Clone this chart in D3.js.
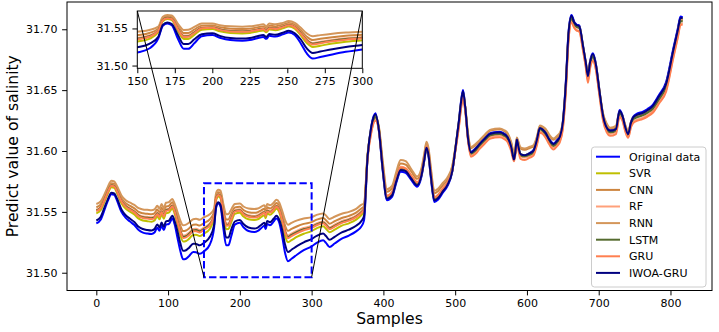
<!DOCTYPE html>
<html><head><meta charset="utf-8">
<script src="https://cdn.jsdelivr.net/npm/d3@7"></script>
<style>body{margin:0;background:#fff}svg{display:block;font-family:"DejaVu Sans",sans-serif}</style>
</head><body><svg id="c" width="719" height="332"></svg>
<script>
const samples = [0,6,11,16,21,25,29,35,41,47,53,59,65,71,77,81,85,88,91,94,97,101,106,109,113,117,121,125,129,135,139,144,
150,158,164,167,170,173,177,181,184,188,193,200,205,212,220,225,230,234,236,238,242,247,251,255,259,263,267,272,280,289,300,
307,316,320,325,332,342,352,362,369,373,378,383,389,394,399,405,412,418,424,431,439,447,453,457,460,463,466,471,476,483,
489,496,501,505,509,511,514,518,522,528,534,541,548,555,562,568,573,578,582,584,586,588,591,597,604,609,614,618,622,626,
631,637,642,646,650,654,658,662,666,669,673,678,682,685,688,692,696,701,706,711,716,724,729,733,737,741,745,748,754,761,
768,775,784,794,804,810,814,817];

const originalData = [31.5405,31.5435,31.5510,31.5590,31.5645,31.5640,31.5590,31.5500,31.5450,31.5420,31.5392,31.5350,31.5330,31.5322,31.5318,31.5330,31.5370,31.5345,31.5385,31.5350,31.5395,31.5400,31.5445,31.5400,31.5290,31.5180,31.5110,31.5115,31.5135,31.5170,31.5168,31.5155,
31.5176,31.5230,31.5365,31.5536,31.5568,31.5545,31.5365,31.5225,31.5225,31.5300,31.5395,31.5410,31.5374,31.5343,31.5334,31.5343,31.5368,31.5385,31.5360,31.5400,31.5390,31.5420,31.5446,31.5410,31.5298,31.5163,31.5095,31.5115,31.5150,31.5185,31.5217,
31.5245,31.5267,31.5245,31.5212,31.5240,31.5280,31.5305,31.5340,31.5377,31.5430,31.5950,31.6200,31.6310,31.6150,31.5840,31.5596,31.5623,31.5740,31.5830,31.5820,
31.5760,31.5706,31.5788,31.5920,31.6021,31.5950,31.5788,31.5582,31.5600,31.5660,31.5710,31.5830,31.6050,31.6240,31.6446,31.6501,31.6360,31.6100,31.5993,31.6020,
31.6062,31.6105,31.6145,31.6155,31.6158,31.6145,31.6120,31.6035,31.5925,31.6000,31.6104,31.6040,31.5975,31.5966,31.5985,31.6007,31.6100,31.6199,31.6180,31.6155,
31.6100,31.6062,31.6090,31.6125,31.6240,31.6550,31.6980,31.7118,31.7060,31.7040,31.7030,31.6871,31.6730,31.6624,31.6740,31.6803,31.6720,31.6500,31.6295,31.6200,
31.6172,31.6186,31.6336,31.6295,31.6200,31.6145,31.6240,31.6281,31.6309,31.6322,31.6345,31.6377,31.6460,31.6569,31.6844,31.7000,31.7104,31.7100];

const svrData = [31.5488,31.5513,31.5578,31.5650,31.5702,31.5697,31.5652,31.5570,31.5525,31.5501,31.5478,31.5444,31.5429,31.5423,31.5419,31.5429,31.5464,31.5439,31.5479,31.5444,31.5489,31.5494,31.5528,31.5488,31.5399,31.5310,31.5256,31.5261,31.5278,31.5310,31.5311,31.5301,
31.5322,31.5360,31.5448,31.5598,31.5627,31.5613,31.5469,31.5358,31.5359,31.5414,31.5483,31.5492,31.5462,31.5439,31.5433,31.5439,31.5459,31.5473,31.5448,31.5486,31.5476,31.5501,31.5526,31.5496,31.5407,31.5303,31.5251,31.5268,31.5296,31.5320,31.5342,
31.5365,31.5381,31.5362,31.5332,31.5354,31.5387,31.5406,31.5436,31.5471,31.5503,31.5960,31.6190,31.6290,31.6170,31.5860,31.5616,31.5643,31.5760,31.5850,31.5840,
31.5780,31.5726,31.5803,31.5935,31.6030,31.5970,31.5810,31.5602,31.5620,31.5680,31.5725,31.5840,31.6050,31.6230,31.6426,31.6481,31.6360,31.6110,31.5983,31.6010,
31.6052,31.6095,31.6135,31.6145,31.6148,31.6135,31.6110,31.6035,31.5935,31.5995,31.6090,31.6035,31.5975,31.5966,31.5980,31.5997,31.6090,31.6184,31.6170,31.6145,
31.6090,31.6052,31.6080,31.6115,31.6225,31.6520,31.6955,31.7098,31.7050,31.7030,31.7020,31.6862,31.6722,31.6610,31.6725,31.6788,31.6705,31.6490,31.6285,31.6190,
31.6162,31.6176,31.6320,31.6285,31.6192,31.6135,31.6230,31.6270,31.6289,31.6302,31.6325,31.6357,31.6438,31.6545,31.6815,31.6975,31.7080,31.7080];

const cnnData = [31.5538,31.5560,31.5618,31.5685,31.5736,31.5731,31.5690,31.5612,31.5570,31.5549,31.5529,31.5499,31.5488,31.5484,31.5480,31.5488,31.5519,31.5494,31.5534,31.5499,31.5544,31.5549,31.5578,31.5541,31.5464,31.5388,31.5342,31.5347,31.5363,31.5394,31.5396,31.5387,
31.5408,31.5438,31.5498,31.5636,31.5662,31.5653,31.5531,31.5437,31.5438,31.5483,31.5536,31.5541,31.5515,31.5497,31.5492,31.5497,31.5513,31.5526,31.5501,31.5537,31.5527,31.5549,31.5573,31.5547,31.5472,31.5387,31.5344,31.5360,31.5382,31.5401,31.5416,
31.5436,31.5450,31.5432,31.5403,31.5423,31.5450,31.5467,31.5494,31.5526,31.5546,31.5970,31.6170,31.6270,31.6180,31.5900,31.5666,31.5693,31.5810,31.5898,31.5888,
31.5830,31.5771,31.5838,31.5965,31.6060,31.6000,31.5850,31.5652,31.5670,31.5720,31.5760,31.5870,31.6050,31.6210,31.6406,31.6461,31.6360,31.6130,31.6023,31.6045,
31.6082,31.6125,31.6165,31.6175,31.6178,31.6165,31.6140,31.6065,31.5975,31.6030,31.6100,31.6070,31.6020,31.6011,31.6025,31.6037,31.6110,31.6199,31.6195,31.6175,
31.6125,31.6092,31.6115,31.6140,31.6230,31.6520,31.6950,31.7078,31.7040,31.7022,31.7012,31.6860,31.6720,31.6620,31.6725,31.6770,31.6700,31.6492,31.6302,31.6220,
31.6185,31.6199,31.6312,31.6283,31.6208,31.6158,31.6233,31.6270,31.6284,31.6297,31.6320,31.6350,31.6430,31.6535,31.6805,31.6965,31.7072,31.7073];

const rfData = [31.5517,31.5540,31.5601,31.5671,31.5722,31.5717,31.5674,31.5595,31.5552,31.5529,31.5508,31.5476,31.5463,31.5459,31.5455,31.5463,31.5496,31.5471,31.5511,31.5476,31.5521,31.5526,31.5557,31.5519,31.5437,31.5355,31.5306,31.5311,31.5328,31.5359,31.5361,31.5351,
31.5372,31.5405,31.5477,31.5620,31.5647,31.5636,31.5505,31.5404,31.5405,31.5454,31.5514,31.5521,31.5493,31.5473,31.5467,31.5473,31.5491,31.5504,31.5479,31.5516,31.5506,31.5529,31.5553,31.5526,31.5445,31.5352,31.5305,31.5322,31.5346,31.5367,31.5385,
31.5406,31.5421,31.5403,31.5373,31.5394,31.5424,31.5442,31.5470,31.5503,31.5528,31.5950,31.6150,31.6250,31.6160,31.5870,31.5636,31.5663,31.5780,31.5870,31.5860,
31.5800,31.5746,31.5818,31.5945,31.6040,31.5985,31.5825,31.5622,31.5640,31.5695,31.5740,31.5850,31.6030,31.6190,31.6386,31.6441,31.6330,31.6090,31.5963,31.5990,
31.6032,31.6075,31.6115,31.6125,31.6128,31.6115,31.6090,31.6015,31.5935,31.5990,31.6070,31.6020,31.5955,31.5946,31.5960,31.5977,31.6060,31.6159,31.6150,31.6125,
31.6070,31.6027,31.6055,31.6090,31.6190,31.6480,31.6920,31.7058,31.7015,31.6995,31.6985,31.6835,31.6695,31.6580,31.6690,31.6745,31.6675,31.6465,31.6265,31.6170,
31.6142,31.6156,31.6286,31.6260,31.6170,31.6112,31.6205,31.6240,31.6259,31.6272,31.6295,31.6325,31.6405,31.6505,31.6775,31.6935,31.7045,31.7050];

const rnnData = [31.5565,31.5585,31.5640,31.5705,31.5755,31.5750,31.5710,31.5635,31.5595,31.5575,31.5557,31.5530,31.5520,31.5517,31.5513,31.5520,31.5550,31.5525,31.5565,31.5530,31.5575,31.5580,31.5605,31.5570,31.5500,31.5430,31.5390,31.5395,31.5410,31.5440,31.5443,31.5435,
31.5456,31.5480,31.5525,31.5656,31.5681,31.5675,31.5565,31.5480,31.5482,31.5520,31.5565,31.5568,31.5544,31.5528,31.5524,31.5528,31.5543,31.5555,31.5530,31.5565,31.5555,31.5575,31.5599,31.5575,31.5508,31.5433,31.5395,31.5410,31.5430,31.5445,31.5457,
31.5475,31.5487,31.5470,31.5442,31.5460,31.5485,31.5500,31.5525,31.5557,31.5570,31.5980,31.6180,31.6280,31.6190,31.5920,31.5686,31.5713,31.5830,31.5926,31.5916,
31.5850,31.5791,31.5858,31.5980,31.6076,31.6020,31.5870,31.5672,31.5690,31.5740,31.5780,31.5880,31.6060,31.6220,31.6416,31.6471,31.6370,31.6140,31.6033,31.6055,
31.6089,31.6132,31.6172,31.6182,31.6185,31.6172,31.6147,31.6075,31.5985,31.6040,31.6110,31.6080,31.6030,31.6021,31.6035,31.6047,31.6120,31.6209,31.6200,31.6182,
31.6135,31.6102,31.6125,31.6150,31.6240,31.6530,31.6960,31.7088,31.7050,31.7030,31.7020,31.6866,31.6725,31.6630,31.6735,31.6780,31.6710,31.6500,31.6310,31.6227,
31.6192,31.6206,31.6320,31.6290,31.6215,31.6165,31.6240,31.6275,31.6294,31.6307,31.6330,31.6360,31.6440,31.6545,31.6815,31.6975,31.7082,31.7086];

const lstmData = [31.5511,31.5534,31.5596,31.5666,31.5718,31.5713,31.5669,31.5589,31.5546,31.5522,31.5501,31.5469,31.5455,31.5451,31.5447,31.5455,31.5489,31.5464,31.5504,31.5469,31.5514,31.5519,31.5551,31.5512,31.5429,31.5345,31.5295,31.5300,31.5317,31.5348,31.5350,31.5340,
31.5361,31.5395,31.5471,31.5615,31.5643,31.5631,31.5497,31.5393,31.5395,31.5445,31.5507,31.5514,31.5486,31.5465,31.5459,31.5465,31.5484,31.5497,31.5472,31.5509,31.5499,31.5522,31.5547,31.5519,31.5437,31.5341,31.5293,31.5310,31.5335,31.5357,31.5375,
31.5397,31.5412,31.5394,31.5364,31.5385,31.5415,31.5434,31.5462,31.5496,31.5522,31.5960,31.6180,31.6280,31.6170,31.5870,31.5626,31.5653,31.5770,31.5860,31.5850,
31.5790,31.5736,31.5808,31.5935,31.6030,31.5975,31.5815,31.5612,31.5630,31.5685,31.5730,31.5840,31.6040,31.6220,31.6416,31.6471,31.6350,31.6100,31.5978,31.6002,
31.6044,31.6087,31.6127,31.6137,31.6140,31.6127,31.6102,31.6025,31.5935,31.5995,31.6080,31.6030,31.5965,31.5956,31.5970,31.5989,31.6080,31.6179,31.6165,31.6137,
31.6082,31.6042,31.6070,31.6105,31.6215,31.6510,31.6945,31.7088,31.7040,31.7020,31.7010,31.6855,31.6712,31.6600,31.6712,31.6775,31.6695,31.6482,31.6280,31.6182,
31.6154,31.6168,31.6310,31.6278,31.6185,31.6127,31.6222,31.6260,31.6279,31.6292,31.6315,31.6345,31.6425,31.6530,31.6800,31.6960,31.7065,31.7065];

const gruData = [31.5506,31.5530,31.5592,31.5662,31.5714,31.5709,31.5666,31.5585,31.5541,31.5518,31.5496,31.5463,31.5450,31.5445,31.5441,31.5450,31.5483,31.5458,31.5498,31.5463,31.5508,31.5513,31.5546,31.5507,31.5422,31.5338,31.5286,31.5291,31.5308,31.5340,31.5341,31.5331,
31.5352,31.5388,31.5466,31.5612,31.5639,31.5627,31.5491,31.5386,31.5387,31.5439,31.5502,31.5510,31.5481,31.5460,31.5454,31.5460,31.5478,31.5492,31.5467,31.5504,31.5494,31.5518,31.5542,31.5514,31.5430,31.5333,31.5284,31.5301,31.5326,31.5349,31.5368,
31.5390,31.5406,31.5387,31.5357,31.5379,31.5409,31.5428,31.5457,31.5490,31.5518,31.5940,31.6150,31.6250,31.6160,31.5870,31.5631,31.5658,31.5775,31.5865,31.5855,
31.5795,31.5741,31.5808,31.5940,31.6035,31.5980,31.5820,31.5617,31.5635,31.5690,31.5735,31.5840,31.6030,31.6190,31.6386,31.6441,31.6330,31.6080,31.5953,31.5975,
31.6017,31.6060,31.6100,31.6110,31.6113,31.6100,31.6075,31.6000,31.5915,31.5975,31.6060,31.6005,31.5935,31.5926,31.5945,31.5962,31.6050,31.6149,31.6140,31.6110,
31.6055,31.6012,31.6040,31.6075,31.6180,31.6470,31.6910,31.7058,31.7010,31.6990,31.6980,31.6830,31.6688,31.6560,31.6680,31.6740,31.6670,31.6455,31.6250,31.6155,
31.6125,31.6139,31.6280,31.6250,31.6160,31.6108,31.6195,31.6230,31.6249,31.6262,31.6283,31.6312,31.6390,31.6490,31.6765,31.6925,31.7035,31.7040];

const iwoaGruData = [31.5429,31.5458,31.5530,31.5602,31.5656,31.5651,31.5608,31.5520,31.5472,31.5443,31.5417,31.5377,31.5359,31.5351,31.5347,31.5359,31.5397,31.5372,31.5412,31.5377,31.5422,31.5427,31.5469,31.5426,31.5343,31.5243,31.5180,31.5185,31.5204,31.5238,31.5237,31.5225,
31.5246,31.5293,31.5389,31.5548,31.5579,31.5558,31.5415,31.5289,31.5289,31.5355,31.5421,31.5434,31.5400,31.5371,31.5363,31.5371,31.5394,31.5411,31.5386,31.5425,31.5415,31.5443,31.5469,31.5435,31.5351,31.5231,31.5170,31.5189,31.5220,31.5250,31.5277,
31.5303,31.5322,31.5301,31.5270,31.5295,31.5331,31.5354,31.5386,31.5422,31.5465,31.5955,31.6195,31.6300,31.6160,31.5850,31.5608,31.5635,31.5752,31.5844,31.5834,
31.5772,31.5718,31.5798,31.5928,31.6026,31.5960,31.5800,31.5594,31.5612,31.5670,31.5720,31.5835,31.6050,31.6235,31.6436,31.6491,31.6360,31.6100,31.5988,31.6014,
31.6056,31.6099,31.6139,31.6149,31.6152,31.6139,31.6114,31.6035,31.5930,31.6000,31.6095,31.6038,31.5975,31.5966,31.5982,31.6001,31.6094,31.6189,31.6175,31.6149,
31.6094,31.6056,31.6084,31.6119,31.6232,31.6535,31.6970,31.7108,31.7055,31.7035,31.7025,31.6866,31.6726,31.6615,31.6732,31.6795,31.6712,31.6494,31.6290,31.6194,
31.6166,31.6180,31.6328,31.6290,31.6196,31.6139,31.6235,31.6276,31.6299,31.6312,31.6335,31.6367,31.6450,31.6555,31.6830,31.6988,31.7092,31.7092];

const seriesNames = ["Original data","SVR","CNN","RF","RNN","LSTM","GRU","IWOA-GRU"];
const seriesColors = ["#0000ff","#bfbf00","#cd853f","#ffa07a","#d4965a","#556b2f","#ff7f50","#000080"];
const seriesValues = [originalData,svrData,cnnData,rfData,rnnData,lstmData,gruData,iwoaGruData];
const xTicks = [0,100,200,300,400,500,600,700,800];
const yTicks = [31.50,31.55,31.60,31.65,31.70];
const insetXTicks = [150,175,200,225,250,275,300];
const insetYTicks = [31.50,31.55];
const zoomRange = {x0:150, x1:300, y0:31.4963, y1:31.5735};

const svg = d3.select("#c");
const L=67, T=2, R=712, B=290.5;
const x = d3.scaleLinear().domain([-40.85,857.85]).range([L,R]);
const y = d3.scaleLinear().domain([31.4854,31.7224]).range([B,T]);

const defs = svg.append("defs");
defs.append("clipPath").attr("id","mainClip").append("rect").attr("x",L).attr("y",T).attr("width",R-L).attr("height",B-T);

function lineGen(sx, sy){
  return d3.line().x((d,i)=>sx(samples[i])).y(d=>sy(d)).curve(d3.curveMonotoneX);
}
const mainG = svg.append("g").attr("clip-path","url(#mainClip)");
const lg = lineGen(x,y);
seriesValues.forEach((vals,k)=>{
  mainG.append("path").attr("d",lg(vals)).attr("fill","none").attr("stroke",seriesColors[k]).attr("stroke-width",2).attr("stroke-linejoin","round");
});

// axes
const fs = "11px";
const xa = svg.append("g").attr("transform",`translate(0,${B})`)
  .call(d3.axisBottom(x).tickValues(xTicks).tickSize(4.9).tickPadding(3.5).tickSizeOuter(0));
const ya = svg.append("g").attr("transform",`translate(${L},0)`)
  .call(d3.axisLeft(y).tickValues(yTicks).tickFormat(d3.format(".2f")).tickSize(4.9).tickPadding(4.5).tickSizeOuter(0));
[xa,ya].forEach(a=>{a.select(".domain").remove();a.selectAll("text").attr("font-size",fs).attr("font-family","DejaVu Sans").attr("fill","#000");a.selectAll("line").attr("stroke","#000").attr("stroke-width",1);});
svg.append("rect").attr("x",L).attr("y",T).attr("width",R-L).attr("height",B-T).attr("fill","none").attr("stroke","#000").attr("stroke-width",1);

svg.append("text").attr("x",(L+R)/2).attr("y",324).attr("text-anchor","middle").attr("font-size","15.6px").text("Samples");
svg.append("text").attr("transform",`translate(17.5,${(T+B)/2}) rotate(-90)`).attr("text-anchor","middle").attr("font-size","15.6px").text("Predict value of salinity");

// inset
const IL=137.3, IR=362.3, IT=11, IB=68.3;
const xi = d3.scaleLinear().domain([zoomRange.x0,zoomRange.x1]).range([IL,IR]);
const yi = d3.scaleLinear().domain([zoomRange.y0,zoomRange.y1]).range([IB,IT]);
defs.append("clipPath").attr("id","insetClip").append("rect").attr("x",IL).attr("y",IT).attr("width",IR-IL).attr("height",IB-IT);
svg.append("rect").attr("x",IL).attr("y",IT).attr("width",IR-IL).attr("height",IB-IT).attr("fill","#fff");
const insetG = svg.append("g").attr("clip-path","url(#insetClip)");
const lgi = lineGen(xi,yi);
seriesValues.forEach((vals,k)=>{
  insetG.append("path").attr("d",lgi(vals)).attr("fill","none").attr("stroke",seriesColors[k]).attr("stroke-width",2).attr("stroke-linejoin","round");
});
const xia = svg.append("g").attr("transform",`translate(0,${IB})`)
  .call(d3.axisBottom(xi).tickValues(insetXTicks).tickSize(4.9).tickPadding(3.5).tickSizeOuter(0));
const yia = svg.append("g").attr("transform",`translate(${IL},0)`)
  .call(d3.axisLeft(yi).tickValues(insetYTicks).tickFormat(d3.format(".2f")).tickSize(4.9).tickPadding(4.5).tickSizeOuter(0));
[xia,yia].forEach(a=>{a.select(".domain").remove();a.selectAll("text").attr("font-size",fs).attr("font-family","DejaVu Sans").attr("fill","#000");a.selectAll("line").attr("stroke","#000").attr("stroke-width",1);});
svg.append("rect").attr("x",IL).attr("y",IT).attr("width",IR-IL).attr("height",IB-IT).attr("fill","none").attr("stroke","#000").attr("stroke-width",1);

// zoom rectangle and connectors
svg.append("rect").attr("x",x(zoomRange.x0)).attr("y",y(zoomRange.y1))
  .attr("width",x(zoomRange.x1)-x(zoomRange.x0)).attr("height",y(zoomRange.y0)-y(zoomRange.y1))
  .attr("fill","none").attr("stroke","#0000ff").attr("stroke-width",2).attr("stroke-dasharray","7.4,3.2");
svg.append("line").attr("x1",IL).attr("y1",IT).attr("x2",x(zoomRange.x0)).attr("y2",y(zoomRange.y0)).attr("stroke","#000").attr("stroke-width",1);
svg.append("line").attr("x1",IR).attr("y1",IT).attr("x2",x(zoomRange.x1)).attr("y2",y(zoomRange.y0)).attr("stroke","#000").attr("stroke-width",1);

// legend
const lgG = svg.append("g");
lgG.append("rect").attr("x",591.5).attr("y",147).attr("width",114.5).attr("height",140).attr("rx",3)
  .attr("fill","#fff").attr("fill-opacity",0.8).attr("stroke","#cccccc").attr("stroke-width",1);
seriesNames.forEach((n,i)=>{
  const yy = 156.7 + i*16.6;
  lgG.append("line").attr("x1",596).attr("x2",620).attr("y1",yy).attr("y2",yy).attr("stroke",seriesColors[i]).attr("stroke-width",2);
  lgG.append("text").attr("x",629).attr("y",yy).attr("dy","0.36em").attr("font-size","11px").text(n);
});
</script></body></html>
